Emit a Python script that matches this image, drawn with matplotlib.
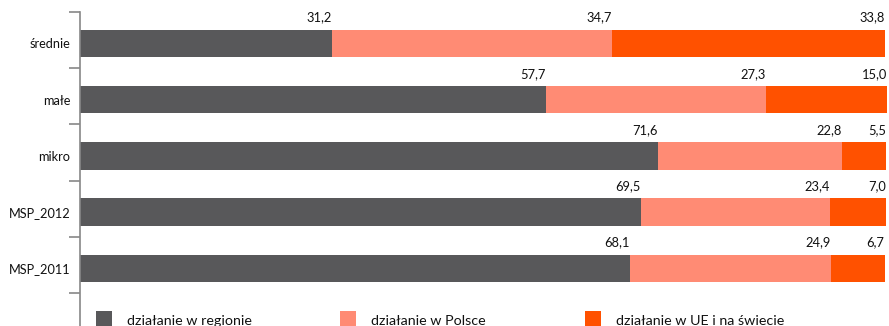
import matplotlib
matplotlib.use('Agg')
import matplotlib.pyplot as plt
from matplotlib.patches import Rectangle
import numpy as np

# Company size groups (top to bottom) and share of activity by market range, %
categories = ["średnie", "małe", "mikro", "MSP_2012", "MSP_2011"]
series_names = ["działanie w regionie", "działanie w Polsce", "działanie w UE i na świecie"]
region = [31.2, 57.7, 71.6, 69.5, 68.1]
poland = [34.7, 27.3, 22.8, 23.4, 24.9]
world = [33.8, 15.0, 5.5, 7.0, 6.7]
colors = ["#58585A", "#FF8B74", "#FF5100"]

plt.rcParams['font.family'] = ['Lato', 'DejaVu Sans']

W, H = 889, 326
ROW = 56.2  # pixels per category
fig = plt.figure(figsize=(W / 100, H / 100), dpi=100)
ax = fig.add_axes([80 / W, 0, (887 - 80) / W, 1 - 12 / H])

y = np.arange(len(categories))
left = np.zeros(len(categories))
for vals, col in zip([region, poland, world], colors):
    vals = np.array(vals)
    ax.barh(y, vals, left=left, height=0.49, color=col, linewidth=0)
    ends = left + vals
    for yi, xe, v in zip(y, ends, vals):
        ax.text(xe, yi - 0.46, f"{v:.1f}".replace(".", ","), ha='right', va='center',
                fontsize=9.3, color='#111111')
    left = ends

top = -0.56
ax.set_xlim(0, 100)
ax.set_ylim(top + (H - 12) / ROW, top)

for s in ['top', 'right', 'bottom']:
    ax.spines[s].set_visible(False)
ax.spines['left'].set_color('#888888')
ax.spines['left'].set_linewidth(1.2)
ax.set_xticks([])
ax.set_yticks(y)
ax.set_yticklabels(categories, fontsize=9.2, color='#111111')
ax.tick_params(axis='y', which='major', length=0, pad=7)
ax.set_yticks(top + np.arange(len(categories) + 1), minor=True)
ax.tick_params(axis='y', which='minor', length=8, color='#888888', width=1.2)

# legend along the bottom edge
for i, (name, col) in enumerate(zip(series_names, colors)):
    x0 = [96, 340, 585][i]
    fig.patches.append(Rectangle((x0 / W, 0), 16 / W, 15 / H, transform=fig.transFigure,
                                 color=col, linewidth=0))
    fig.text((x0 + 31) / W, 5 / H, name, ha='left', va='center', fontsize=10.3, color='#111111')

fig.savefig("out.png", dpi=100)
